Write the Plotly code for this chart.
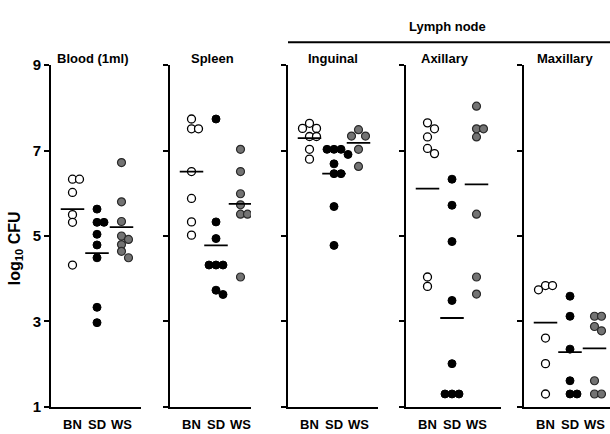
import plotly.graph_objects as go

# ---------------- data (log10 CFU) ----------------
panels = ["Blood (1ml)", "Spleen", "Inguinal", "Axillary", "Maxillary"]
groups = ["BN", "SD", "WS"]
y_ticks = [1, 3, 5, 7, 9]

blood_bn = [6.33, 6.33, 6.02, 5.50, 5.32, 4.32]
blood_sd = [5.63, 5.32, 5.32, 5.04, 4.79, 4.49, 3.33, 2.97]
blood_ws = [6.72, 5.80, 5.34, 5.00, 4.92, 4.80, 4.64, 4.49]

spleen_bn = [7.74, 7.51, 7.51, 6.51, 5.88, 5.33, 5.02]
spleen_sd = [7.74, 5.33, 4.94, 4.32, 4.32, 4.32, 3.73, 3.63]
spleen_ws = [7.03, 6.51, 5.99, 5.73, 5.51, 5.51, 4.04]

inguinal_bn = [7.64, 7.52, 7.52, 7.33, 7.33, 7.03, 6.80]
inguinal_sd = [7.03, 7.03, 7.03, 6.91, 6.69, 6.46, 6.46, 5.69, 4.78]
inguinal_ws = [7.49, 7.34, 7.34, 7.03, 6.63]

axillary_bn = [7.65, 7.51, 7.32, 7.05, 6.93, 4.04, 3.82]
axillary_sd = [6.33, 5.72, 4.87, 3.49, 2.01, 1.30, 1.30, 1.30]
axillary_ws = [8.04, 7.51, 7.51, 7.32, 5.51, 4.04, 3.64]

maxillary_bn = [3.84, 3.84, 3.74, 2.61, 2.01, 1.30]
maxillary_sd = [3.59, 3.12, 2.35, 1.61, 1.30, 1.30]
maxillary_ws = [3.12, 3.12, 2.88, 2.78, 1.61, 1.30, 1.30]

# group mean bars as drawn in the figure
blood_means = [5.63, 4.60, 5.21]
spleen_means = [6.51, 4.78, 5.75]
inguinal_means = [7.29, 6.46, 7.18]
axillary_means = [6.11, 3.08, 6.21]
maxillary_means = [2.97, 2.28, 2.37]

panel_values = [
    [blood_bn, blood_sd, blood_ws],
    [spleen_bn, spleen_sd, spleen_ws],
    [inguinal_bn, inguinal_sd, inguinal_ws],
    [axillary_bn, axillary_sd, axillary_ws],
    [maxillary_bn, maxillary_sd, maxillary_ws],
]
panel_means = [blood_means, spleen_means, inguinal_means, axillary_means, maxillary_means]

# ---------------- layout geometry ----------------
W, H = 610, 434
FONT = "Liberation Sans, Arial, sans-serif"
# panel pixel extents (left axis x, right end x)
px_ext = [(51, 141), (170, 251), (288, 378), (406, 501), (524, 610)]
PX_PER_UNIT = 24.5      # horizontal px per category step
FIRST_OFF = 21.5        # px from axis to first category
Y_TOP_PX, Y_BOT_PX = 58.5, 414
Y_PX_PER_UNIT = (Y_BOT_PX - Y_TOP_PX) / 8.0
MARK = 8.0              # marker diameter px
STEP = 7.0              # beeswarm step px

styles = [
    dict(color="white", line=dict(color="black", width=1.3)),
    dict(color="black", line=dict(color="black", width=1)),
    dict(color="#737373", line=dict(color="#2a2a2a", width=1.2)),
]


def beeswarm(vals):
    """Return horizontal offsets (px) so circles don't overlap much."""
    order = sorted(range(len(vals)), key=lambda i: -vals[i])
    placed = []
    offs = [0.0] * len(vals)
    cand = [0, 1, -1, 2, -2, 3, -3]
    for i in order:
        y = vals[i] * Y_PX_PER_UNIT
        for c in cand:
            x = c * STEP
            ok = all((x - px) ** 2 + (y - py) ** 2 >= STEP ** 2 * 0.98 for px, py in placed)
            if ok:
                break
        placed.append((x, y))
        offs[i] = x
    return offs


fig = go.Figure()
layout_axes = {}
for p, name in enumerate(panels):
    ax = "" if p == 0 else str(p + 1)
    x0, x1 = px_ext[p]
    lo = 1 - FIRST_OFF / PX_PER_UNIT
    hi = lo + (x1 - x0) / PX_PER_UNIT
    for g in range(3):
        vals = panel_values[p][g]
        offs = beeswarm(vals)
        xs = [g + 1 + o / PX_PER_UNIT for o in offs]
        fig.add_trace(go.Scatter(
            x=xs, y=vals, mode="markers", xaxis="x" + ax, yaxis="y" + ax,
            marker=dict(size=MARK, symbol="circle", **styles[g]),
            showlegend=False, hoverinfo="y"))
        m = panel_means[p][g]
        fig.add_trace(go.Scatter(
            x=[g + 1 - 0.48, g + 1 + 0.48], y=[m, m], mode="lines",
            xaxis="x" + ax, yaxis="y" + ax,
            line=dict(color="black", width=1.8), showlegend=False, hoverinfo="skip"))
    layout_axes["xaxis" + ax] = dict(
        domain=[x0 / W, x1 / W], range=[lo, hi], anchor="y" + ax,
        tickvals=[1, 2, 3], ticktext=["<b>%s</b>" % g for g in groups],
        ticks="", ticklabelstandoff=5, showline=True, linecolor="black", linewidth=2,
        showgrid=False, zeroline=False, fixedrange=True,
        tickfont=dict(family=FONT, size=13, color="black"))
    layout_axes["yaxis" + ax] = dict(
        domain=[(H - Y_BOT_PX) / H, (H - Y_TOP_PX) / H], range=[1, 9],
        anchor="x" + ax, tickvals=y_ticks,
        ticktext=["<b>%d</b>" % t for t in y_ticks],
        showticklabels=(p == 0), ticks="outside", ticklen=5, tickwidth=2,
        tickcolor="black", showline=True, linecolor="black", linewidth=2,
        showgrid=False, zeroline=False, fixedrange=True,
        tickfont=dict(family=FONT, size=15, color="black"))

title_x = [93, 212, 333, 445, 565]
annotations = []
for p, name in enumerate(panels):
    annotations.append(dict(
        text="<b>%s</b>" % name, x=title_x[p] / W, y=(H - 52) / H,
        xref="paper", yref="paper", showarrow=False, xanchor="center", yanchor="middle",
        font=dict(family=FONT, size=13, color="black")))
annotations.append(dict(
    text="<b>Lymph node</b>", x=447.5 / W, y=(H - 18) / H, xref="paper", yref="paper",
    showarrow=False, xanchor="center", yanchor="middle",
    font=dict(family=FONT, size=13, color="black")))
annotations.append(dict(
    text="<b>log<sub>10</sub> CFU</b>", x=15 / W, y=(H - 249) / H, xref="paper", yref="paper",
    showarrow=False, textangle=-90, xanchor="center", yanchor="middle",
    font=dict(family=FONT, size=16, color="black")))

fig.update_layout(
    width=W, height=H, margin=dict(l=0, r=0, t=0, b=0),
    paper_bgcolor="white", plot_bgcolor="white",
    annotations=annotations,
    shapes=[dict(type="line", xref="paper", yref="paper",
                 x0=288 / W, x1=1.0, y0=(H - 34.5) / H, y1=(H - 34.5) / H,
                 line=dict(color="black", width=2))],
    **layout_axes)

fig.write_html("out.html")
